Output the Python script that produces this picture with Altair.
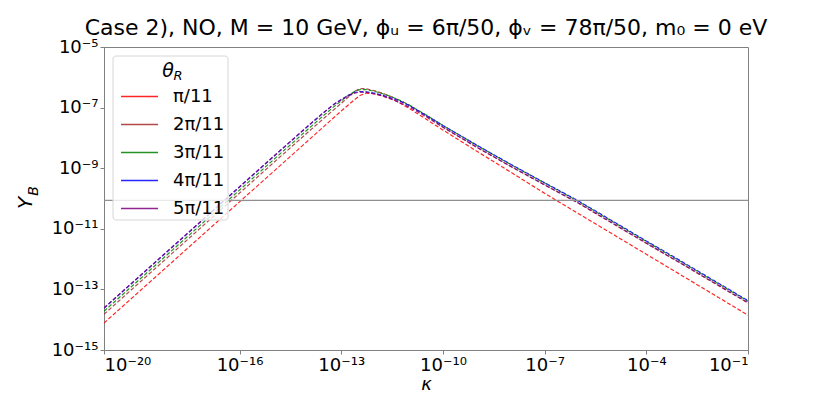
import altair as alt
import pandas as pd

# ---- data (log10 values) ----
log_kappa = [-20, -18, -16, -15, -14, -13.5, -13.25, -13, -12.8, -12.6, -12.45, -12.25, -12,
             -11.75, -11.5, -11.25, -11, -10.5, -10, -9, -8, -7, -6, -5, -4, -3, -2, -1]

series_labels = ["π/11", "2π/11", "3π/11", "4π/11", "5π/11"]
series_colors = ["#ff0000", "#a52a2a", "#008000", "#0000ff", "#800080"]

log_yb_1 = [-14.11, -12.11, -10.11, -9.11, -8.11, -7.61, -7.36, -7.11, -6.92, -6.73, -6.60, -6.52, -6.55,
            -6.62, -6.72, -6.86, -7.02, -7.38, -7.74, -8.44, -9.13, -9.83, -10.50, -11.17, -11.84, -12.51, -13.18, -13.85]
log_yb_2 = [-13.82, -11.82, -9.82, -8.82, -7.83, -7.34, -7.10, -6.86, -6.66, -6.46, -6.37, -6.38, -6.45,
            -6.54, -6.65, -6.78, -6.92, -7.27, -7.64, -8.31, -8.94, -9.55, -10.16, -10.82, -11.48, -12.13, -12.79, -13.45]
log_yb_3 = [-13.72, -11.72, -9.72, -8.72, -7.73, -7.24, -7.00, -6.78, -6.60, -6.46, -6.41, -6.41, -6.47,
            -6.55, -6.65, -6.77, -6.91, -7.24, -7.59, -8.25, -8.88, -9.49, -10.10, -10.76, -11.42, -12.07, -12.73, -13.39]
log_yb_4 = [-13.62, -11.62, -9.62, -8.62, -7.63, -7.15, -6.92, -6.73, -6.60, -6.50, -6.47, -6.48, -6.53,
            -6.60, -6.69, -6.80, -6.93, -7.25, -7.59, -8.24, -8.87, -9.48, -10.08, -10.74, -11.40, -12.05, -12.71, -13.37]
log_yb_5 = [-13.61, -11.61, -9.61, -8.61, -7.62, -7.14, -6.92, -6.74, -6.62, -6.52, -6.49, -6.50, -6.55,
            -6.63, -6.73, -6.85, -6.98, -7.30, -7.65, -8.31, -8.94, -9.55, -10.15, -10.81, -11.47, -12.12, -12.78, -13.44]

yb_observed = 8.7e-11

x_tick_exps = [-20, -16, -13, -10, -7, -4, -1]
x_tick_labels = ["10⁻²⁰", "10⁻¹⁶", "10⁻¹³", "10⁻¹⁰", "10⁻⁷", "10⁻⁴", "10⁻¹"]
y_tick_exps = [-15, -13, -11, -9, -7, -5]
y_tick_labels = ["10⁻¹⁵", "10⁻¹³", "10⁻¹¹", "10⁻⁹", "10⁻⁷", "10⁻⁵"]

title_text = "Case 2), NO, M = 10 GeV, ϕᵤ = 6π/50, ϕᵥ = 78π/50, m₀ = 0 eV"

# ---- build table ----
all_series = [log_yb_1, log_yb_2, log_yb_3, log_yb_4, log_yb_5]
rows = []
for lab, ys in zip(series_labels, all_series):
    assert len(ys) == len(log_kappa)
    for lk, ly in zip(log_kappa, ys):
        rows.append({"theta": lab, "kappa": 10.0 ** lk, "yb": 10.0 ** ly})
df = pd.DataFrame(rows)


def label_expr(exps, labels):
    expr = "''"
    for e, lab in reversed(list(zip(exps, labels))):
        expr = f"datum.value < {10.0 ** e * 1.5:.3e} ? '{lab}' : ({expr})"
    return expr


FONT = "DejaVu Sans"
W, H = 644, 303

xscale = alt.Scale(type="log", domain=[1e-20, 1e-1], nice=False)
yscale = alt.Scale(type="log", domain=[1e-15, 1e-5], nice=False)

lines = alt.Chart(df).mark_line(strokeDash=[4, 2], strokeWidth=1.2, opacity=0.85, clip=True).encode(
    x=alt.X("kappa:Q", scale=xscale,
            axis=alt.Axis(values=[10.0 ** e for e in x_tick_exps],
                          labelExpr=label_expr(x_tick_exps, x_tick_labels),
                          title="κ", titleFontStyle="italic", titleFontSize=18,
                          titlePadding=1)),
    y=alt.Y("yb:Q", scale=yscale,
            axis=alt.Axis(values=[10.0 ** e for e in y_tick_exps],
                          labelExpr=label_expr(y_tick_exps, y_tick_labels),
                          title="")),
    color=alt.Color("theta:N",
                    scale=alt.Scale(domain=series_labels, range=series_colors),
                    sort=series_labels,
                    legend=alt.Legend(orient="none", legendX=9, legendY=9, title=" ",
                                      titleFontSize=18, titlePadding=3,
                                      symbolType="stroke", symbolSize=1369,
                                      symbolStrokeWidth=1.3, symbolDash=[1, 0],
                                      labelFontSize=18, labelFont=FONT, labelOffset=14,
                                      clipHeight=25, rowPadding=3, padding=7)),
)

rule = alt.Chart(pd.DataFrame({"yb": [yb_observed]})).mark_rule(
    color="#909090", strokeWidth=1.3).encode(y=alt.Y("yb:Q", scale=yscale))

one = pd.DataFrame({"a": [0]})
legend_box = alt.Chart(one).mark_rect(
    fill="white", fillOpacity=0.8, stroke="#d6d6d6", strokeWidth=1, cornerRadius=3).encode(
    x=alt.value(9), x2=alt.value(124), y=alt.value(9), y2=alt.value(173))
ytitle_main = alt.Chart(one).mark_text(fontSize=20, font=FONT, fontStyle="italic", angle=270).encode(
    x=alt.value(-78), y=alt.value(156), text=alt.value("Y"))
ytitle_sub = alt.Chart(one).mark_text(fontSize=14, font=FONT, fontStyle="italic", angle=270).encode(
    x=alt.value(-70), y=alt.value(144), text=alt.value("B"))
ltitle_main = alt.Chart(one).mark_text(fontSize=19, font=FONT, fontStyle="italic").encode(
    x=alt.value(64), y=alt.value(24), text=alt.value("θ"))
ltitle_sub = alt.Chart(one).mark_text(fontSize=13, font=FONT, fontStyle="italic").encode(
    x=alt.value(74), y=alt.value(29), text=alt.value("R"))
title_mark = alt.Chart(one).mark_text(fontSize=22, font=FONT, baseline="alphabetic",
                                      align="center", color="black").encode(
    x=alt.value(W / 2), y=alt.value(-12), text=alt.value(title_text))

chart = alt.layer(lines, rule, legend_box, ytitle_main, ytitle_sub, ltitle_main, ltitle_sub,
                  title_mark).properties(
    width=W, height=H,
    autosize=alt.AutoSizeParams(type="none"),
    padding={"left": 96, "top": 39, "right": 75, "bottom": 44},
).configure_axis(
    labelFont=FONT, labelFontSize=18, labelColor="black", titleFont=FONT, titleColor="black",
    titleFontWeight="normal", domainColor="#808080", tickColor="#808080", tickSize=4,
    grid=False, labelPadding=2,
).configure_view(stroke="#808080", strokeWidth=1).configure_legend(
    labelColor="black")

chart.save("out.html", embed_options={"renderer": "svg", "actions": False})
